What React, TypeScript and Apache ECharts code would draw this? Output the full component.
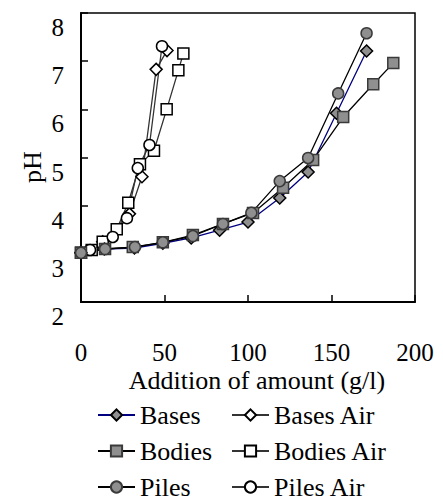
import React, { useEffect, useRef } from "react";
import * as echarts from "echarts";

const basesX = [0, 14, 32, 49, 66, 83, 100, 119, 136, 153, 171];
const basesY = [3.02, 3.1, 3.12, 3.22, 3.33, 3.49, 3.66, 4.16, 4.7, 5.92, 7.21];
const bodiesX = [0, 14.4, 31, 49, 67, 85, 103, 121, 139, 157, 175, 187];
const bodiesY = [3.02, 3.1, 3.14, 3.24, 3.39, 3.62, 3.85, 4.37, 4.95, 5.84, 6.52, 6.96];
const pilesX = [0, 14.4, 32.3, 49, 67, 85, 102, 119, 136, 154, 171];
const pilesY = [3.02, 3.1, 3.14, 3.24, 3.37, 3.62, 3.85, 4.51, 4.99, 6.33, 7.58];
const basesAirX = [0, 13, 29, 36.5, 45, 51.5];
const basesAirY = [3.02, 3.25, 3.83, 4.6, 6.83, 7.22];
const bodiesAirX = [0, 6.4, 13, 21.4, 28.3, 35.3, 43.7, 51.3, 58.3, 61.3];
const bodiesAirY = [3.02, 3.08, 3.25, 3.51, 4.06, 4.86, 5.14, 6.0, 6.81, 7.16];
const pilesAirX = [0, 5.4, 19, 27.5, 34, 41, 48.5];
const pilesAirY = [3.02, 3.08, 3.35, 3.74, 4.78, 5.26, 7.31];

const FONT = "Liberation Serif";
const FS = 25;
const FS_BIG = 26;

function zip(xs: number[], ys: number[]) {
  return xs.map((x, i) => [x, ys[i]]);
}

export default function App() {
  const ref = useRef<HTMLDivElement>(null);
  useEffect(() => {
    document.body.style.margin = "0";
    const chart = echarts.init(ref.current!, null, { renderer: "svg" });
    const gray = "#8f8f8f";
    const grayBorder = "#3a3a3a";
    const mk = (name: string, xs: number[], ys: number[], symbol: string, size: number, fill: string, border: string, lineColor: string) => ({
      name,
      type: "line",
      data: zip(xs, ys),
      symbol,
      symbolSize: size,
      showAllSymbol: true,
      lineStyle: { color: lineColor, width: 1.3 },
      itemStyle: { color: fill, borderColor: border, borderWidth: 1.5 },
      emphasis: { disabled: true },
    });
    const legendBase = {
      orient: "vertical",
      top: 402,
      height: 110,
      padding: 0,
      itemWidth: 37,
      itemHeight: 14,
      itemGap: 10,
      textStyle: { color: "#000", fontFamily: FONT, fontSize: FS_BIG, lineHeight: 26 },
      selectedMode: false,
    };
    chart.setOption({
      animation: false,
      grid: { left: 81, right: 28, top: 13, bottom: 200, show: true, borderColor: "#000", borderWidth: 1.5 },
      xAxis: {
        type: "value",
        min: 0,
        max: 200,
        interval: 50,
        axisLine: { show: true, lineStyle: { color: "#000", width: 2 } },
        axisTick: { show: true, inside: true, length: 7, lineStyle: { color: "#000", width: 1.5 } },
        splitLine: { show: false },
        axisLabel: { color: "#000", fontFamily: FONT, fontSize: FS, margin: 38, showMinLabel: true, showMaxLabel: true },
      },
      yAxis: {
        type: "value",
        min: 2,
        max: 8,
        interval: 1,
        axisLine: { show: true, lineStyle: { color: "#000", width: 2 } },
        axisTick: { show: true, inside: true, length: 7, lineStyle: { color: "#000", width: 1.5 } },
        splitLine: { show: false },
        axisLabel: { color: "#000", fontFamily: FONT, fontSize: FS, margin: 17, verticalAlign: "top", lineHeight: 29, showMinLabel: true, showMaxLabel: true },
      },
      legend: [
        { ...legendBase, data: ["Bases", "Bodies", "Piles"], left: 97 },
        { ...legendBase, data: ["Bases Air", "Bodies Air", "Piles Air"], left: 231 },
      ],
      graphic: [
        {
          type: "text",
          x: 32,
          y: 167,
          rotation: Math.PI / 2,
          style: { text: "pH", fontFamily: FONT, fontSize: FS_BIG, fill: "#000", align: "center", verticalAlign: "middle" },
        },
        {
          type: "text",
          x: 257,
          y: 380,
          style: { text: "Addition of amount (g/l)", fontFamily: FONT, fontSize: FS_BIG, fill: "#000", align: "center", verticalAlign: "middle" },
        },
      ],
      series: [
        mk("Bases Air", basesAirX, basesAirY, "diamond", 12, "#fff", "#000", "#333"),
        mk("Bodies Air", bodiesAirX, bodiesAirY, "rect", 11, "#fff", "#000", "#333"),
        mk("Piles Air", pilesAirX, pilesAirY, "circle", 11, "#fff", "#000", "#333"),
        mk("Bases", basesX, basesY, "diamond", 12, gray, "#000", "#000080"),
        mk("Bodies", bodiesX, bodiesY, "rect", 11, gray, grayBorder, "#000"),
        mk("Piles", pilesX, pilesY, "circle", 11, gray, grayBorder, "#000"),
      ],
    });
    return () => chart.dispose();
  }, []);
  return <div ref={ref} style={{ width: 443, height: 502 }} />;
}
